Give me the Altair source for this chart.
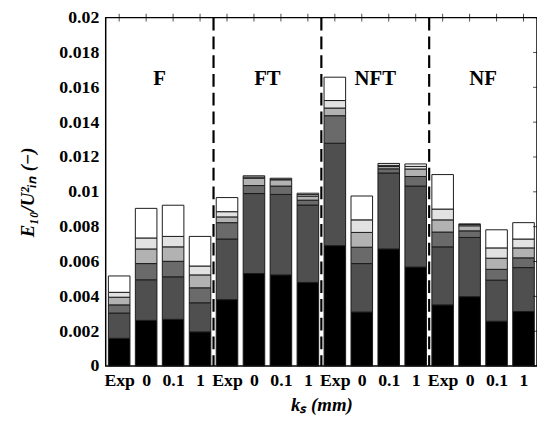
import altair as alt
import pandas as pd

groups = ["F", "FT", "NFT", "NF"]
cases = ["Exp", "0", "0.1", "1"]

# cumulative top of each stacked layer, for the 16 bars (F: Exp,0,0.1,1, FT..., NFT..., NF...)
layer_names = ["L1", "L2", "L3", "L4", "L5", "L6"]
layer_colors = ["#000000", "#4f4f4f", "#6a6a6a", "#b2b2b2", "#e2e2e2", "#ffffff"]
top_l1 = [0.00159, 0.00262, 0.00268, 0.00196, 0.00381, 0.00531, 0.00523, 0.00480,
          0.00691, 0.00310, 0.00672, 0.00568, 0.00351, 0.00398, 0.00257, 0.00313]
top_l2 = [0.00304, 0.00495, 0.00512, 0.00363, 0.00729, 0.00990, 0.00985, 0.00924,
          0.01279, 0.00588, 0.01108, 0.01033, 0.00684, 0.00738, 0.00493, 0.00565]
top_l3 = [0.00351, 0.00588, 0.00601, 0.00449, 0.00823, 0.01036, 0.01033, 0.00952,
          0.01437, 0.00682, 0.01132, 0.01088, 0.00769, 0.00776, 0.00555, 0.00621]
top_l4 = [0.00395, 0.00672, 0.00684, 0.00523, 0.00856, 0.01078, 0.01069, 0.00975,
          0.01481, 0.00767, 0.01145, 0.01131, 0.00839, 0.00805, 0.00619, 0.00678]
top_l5 = [0.00423, 0.00735, 0.00744, 0.00574, 0.00886, 0.01085, 0.01072, 0.00984,
          0.01524, 0.00839, 0.01152, 0.01146, 0.00901, 0.00812, 0.00678, 0.00729]
top_l6 = [0.00517, 0.00905, 0.00923, 0.00744, 0.00967, 0.01092, 0.01078, 0.00992,
          0.01658, 0.00976, 0.01163, 0.01160, 0.01099, 0.00816, 0.00782, 0.00823]

y_ticks = [0, 0.002, 0.004, 0.006, 0.008, 0.01, 0.012, 0.014, 0.016, 0.018, 0.02]
separators = [4.5, 8.5, 12.5]
group_label_y = 0.0165

tops = [top_l1, top_l2, top_l3, top_l4, top_l5, top_l6]
rows = []
for li, name in enumerate(layer_names):
    for i in range(16):
        lo = 0.0 if li == 0 else tops[li - 1][i]
        rows.append({"pos": i + 1, "layer": name, "y0": lo, "y1": tops[li][i]})
df = pd.DataFrame(rows)
df["xa"] = df["pos"] - 0.4
df["xb"] = df["pos"] + 0.4

FONT = "Liberation Serif"
W, H = 437, 353

xscale = alt.Scale(domain=[0.5, 16.5], nice=False, zero=False)
yscale = alt.Scale(domain=[0, 0.02], nice=False)

x_axis = alt.Axis(values=list(range(1, 17)),
                  labelExpr="['Exp','0','0.1','1'][(datum.value-1)%4]",
                  title="kₛ (mm)", grid=False, ticks=False, domain=False,
                  labelPadding=6, titlePadding=6, labelFlush=False,
                  labelOverlap=False, titleFontStyle="italic")
y_axis = alt.Axis(values=y_ticks, format="~g", title="E₁₀/U²ᵢₙ (−)",
                  grid=False, ticks=False, domain=False, labelPadding=7,
                  labelOverlap=False, labelFlush=False,
                  titlePadding=22, titleFontStyle="italic")

bars = alt.Chart(df).mark_bar(stroke="#1a1a1a", strokeWidth=1).encode(
    x=alt.X("xa:Q", scale=xscale, axis=x_axis),
    x2="xb:Q",
    y=alt.Y("y0:Q", scale=yscale, axis=y_axis),
    y2="y1:Q",
    color=alt.Color("layer:N", scale=alt.Scale(domain=layer_names, range=layer_colors),
                    legend=None),
)

sep_df = pd.DataFrame({"x": separators})
seps = alt.Chart(sep_df).mark_rule(color="black", strokeWidth=2.2, strokeDash=[13, 6]).encode(
    x=alt.X("x:Q", scale=xscale, axis=x_axis),
    y=alt.value(0),
    y2=alt.value(H),
)

lab_df = pd.DataFrame({"x": [2.5, 6.5, 10.5, 14.5], "g": groups, "y": [group_label_y] * 4})
labels = alt.Chart(lab_df).mark_text(font=FONT, fontWeight="bold", fontSize=21,
                                     color="black", baseline="middle").encode(
    x=alt.X("x:Q", scale=xscale, axis=x_axis),
    y=alt.Y("y:Q", scale=yscale, axis=y_axis),
    text="g:N",
)

# inward tick marks on the top and right frame
top_tick_df = pd.DataFrame({"pos": list(range(1, 17))})
top_ticks = alt.Chart(top_tick_df).mark_tick(color="black", size=8, thickness=1).encode(
    x=alt.X("pos:Q", scale=xscale, axis=x_axis),
    y=alt.value(0),
)
right_tick_df = pd.DataFrame({"v": y_ticks})
right_ticks = alt.Chart(right_tick_df).mark_tick(color="black", size=8, thickness=1).encode(
    y=alt.Y("v:Q", scale=yscale, axis=y_axis),
    x=alt.value(W),
)

chart = alt.layer(bars, seps, labels, top_ticks, right_ticks).properties(
    width=W, height=H,
    autosize=alt.AutoSizeParams(type="none"),
    padding={"left": 99, "top": 7, "right": 0, "bottom": 56},
).configure_view(
    stroke="black", strokeWidth=1.5
).configure_axis(
    labelFont=FONT, labelFontWeight="bold", labelFontSize=18, labelColor="black",
    titleFont=FONT, titleFontWeight="bold", titleFontSize=19, titleColor="black",
    labelOverlap=False,
)

chart.save("out.html", embed_options={"renderer": "svg", "actions": False})
